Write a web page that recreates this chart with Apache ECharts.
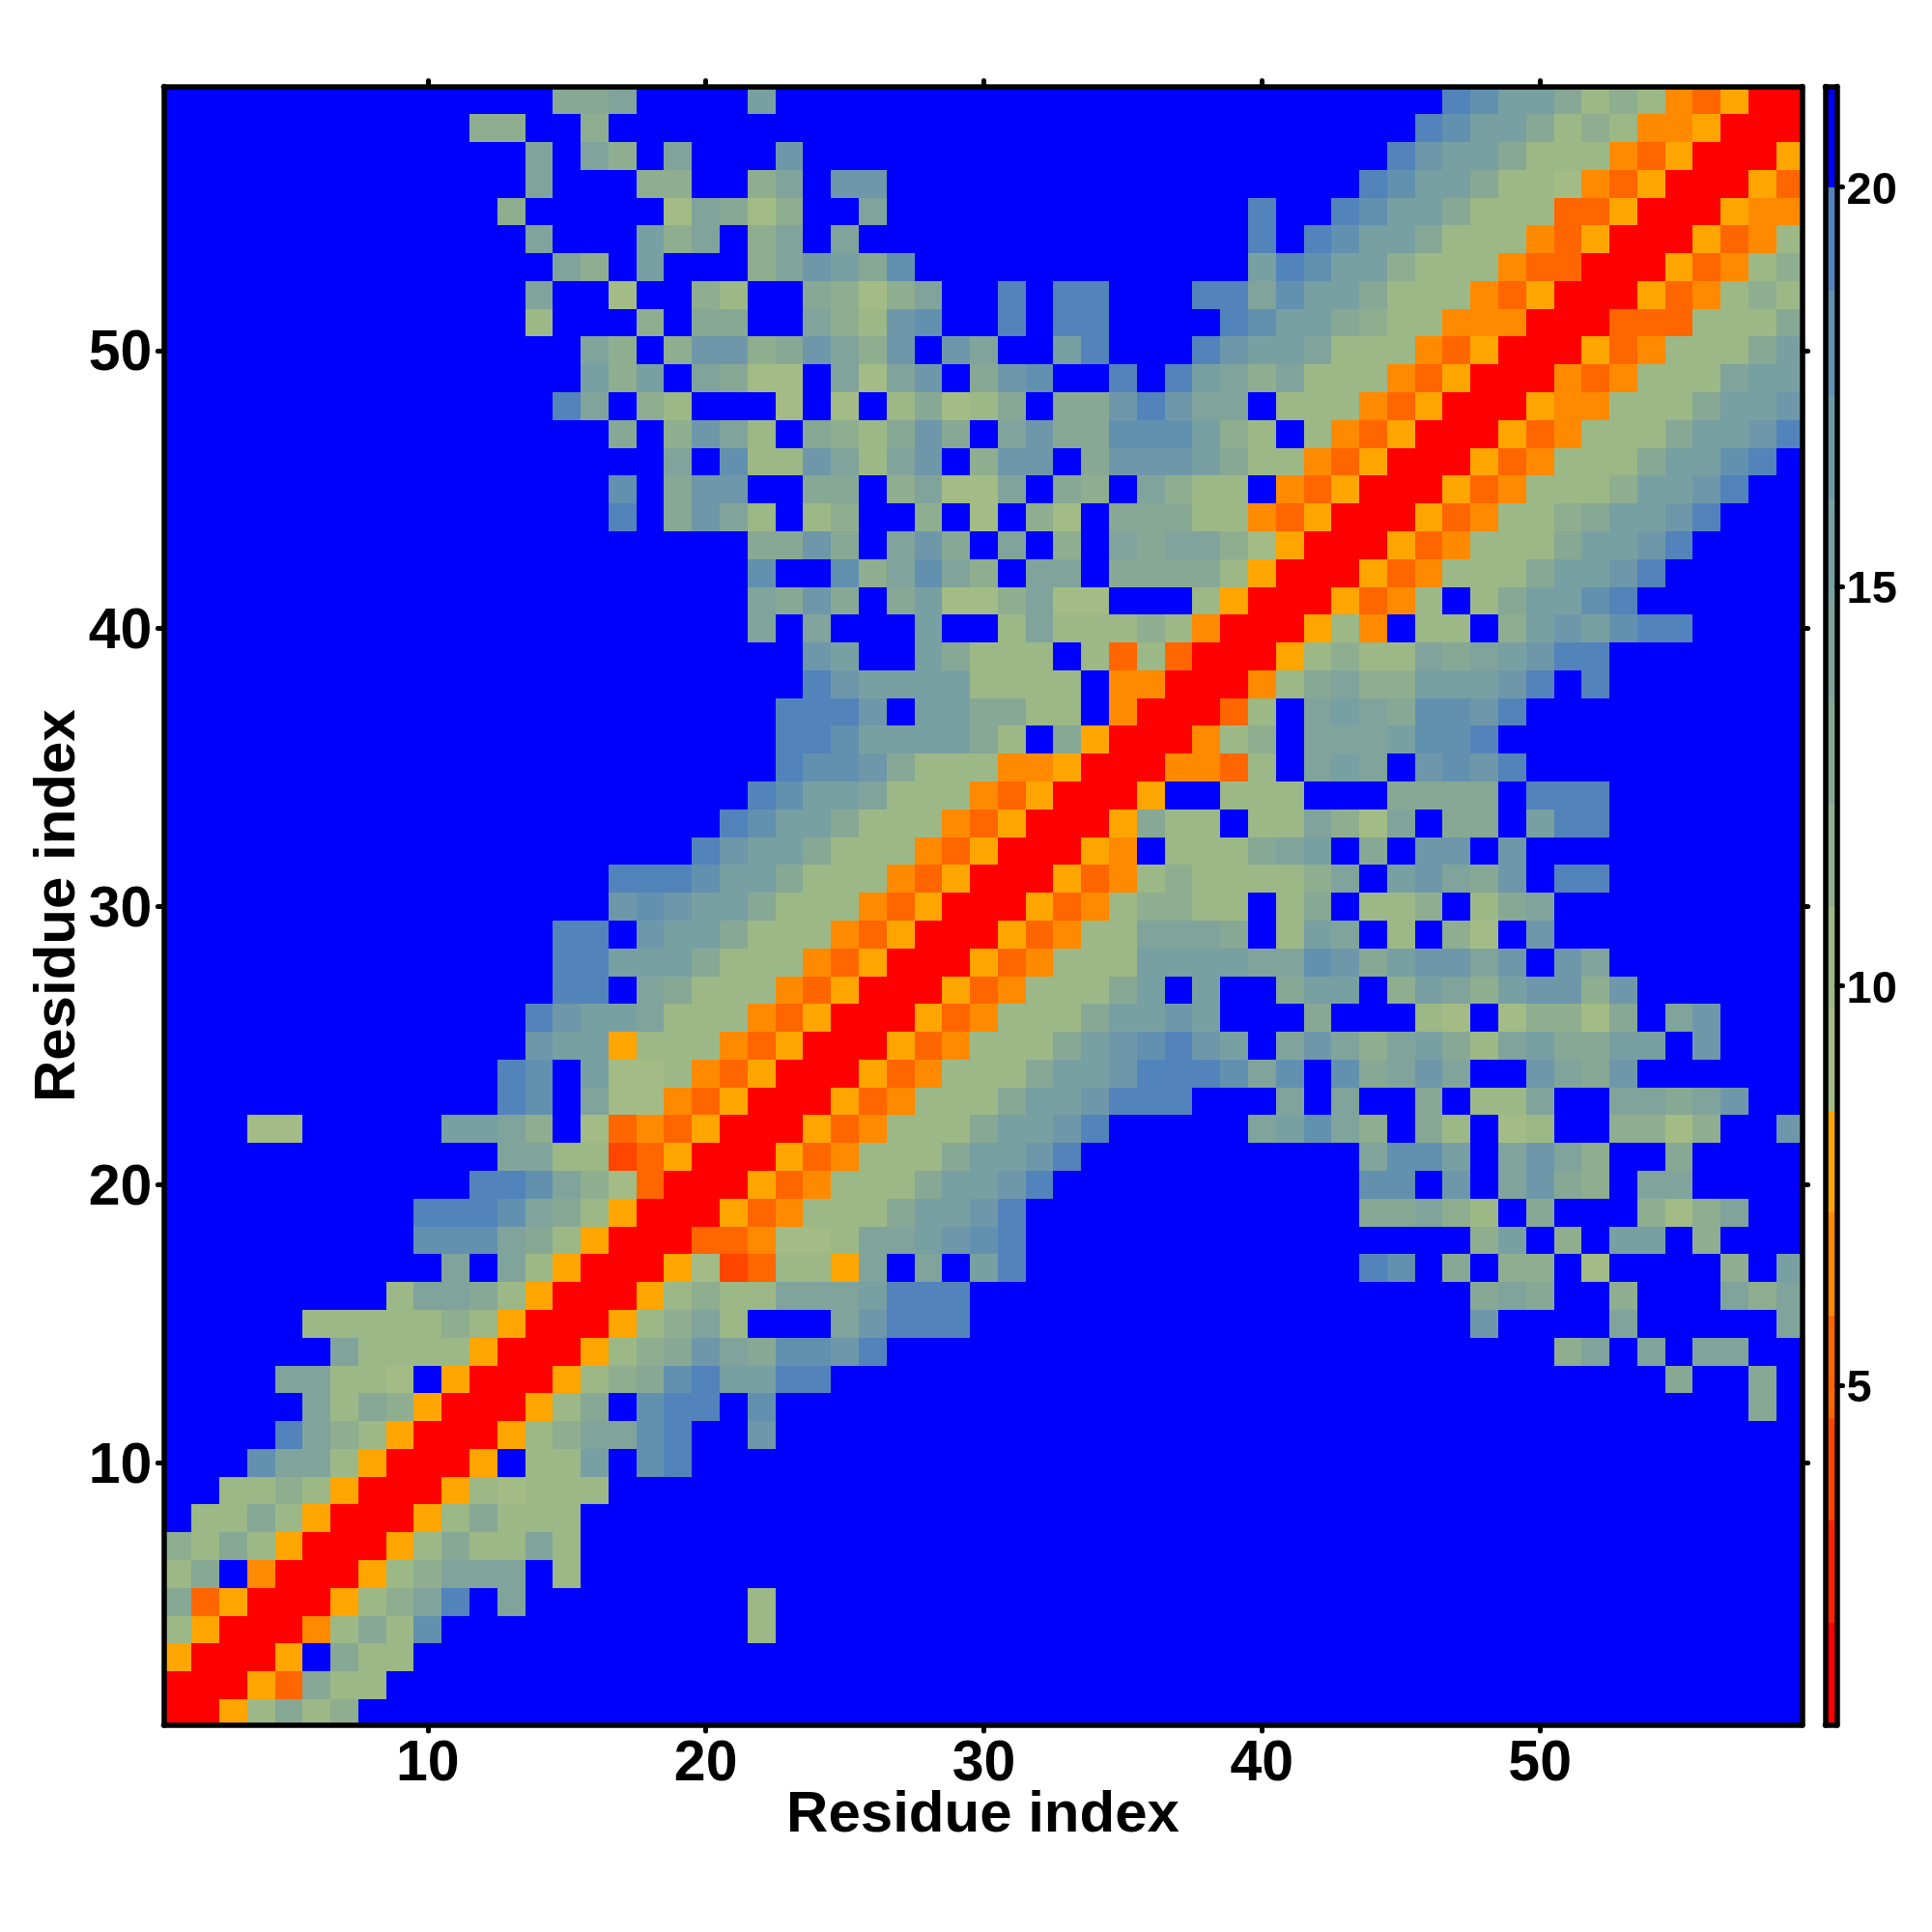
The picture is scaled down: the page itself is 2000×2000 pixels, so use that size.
<!DOCTYPE html>
<html><head><meta charset="utf-8"><title>Residue contact map</title>
<style>html,body{margin:0;padding:0;background:#fff}#c{width:2000px;height:2000px}</style>
<script src="https://cdn.jsdelivr.net/npm/echarts@6/dist/echarts.min.js"></script>
</head><body><div id="c"></div>
<script>
// Each row: segments [firstColumn, value, value, ...]. Any cell not listed reads as the top band (21).
const row59=[[15,13,13,14],[22,15],[47,19,18,15,15,13,10,12,10,7,5,8,1,1]];
const row58=[[12,12,12],[16,12],[46,19,18,15,15,13,10,12,10,7,7,8,1,1,1]];
const row57=[[14,14],[16,14,12],[19,14],[23,17],[45,19,17,15,15,13,10,10,10,7,5,8,1,1,1,8]];
const row56=[[14,14],[18,12,12],[22,12,14],[25,17,17],[44,19,18,15,15,13,10,10,9,7,5,8,1,1,1,8,5]];
const row55=[[13,12],[19,9,14,13,9,12],[26,14],[40,19],[43,19,18,15,15,13,10,10,10,5,5,8,1,1,1,8,7,7]];
const row54=[[14,14],[18,15,12,14],[22,12,14],[25,14],[40,19],[42,19,18,15,15,13,10,10,10,7,5,8,1,1,1,8,5,7,10]];
const row53=[[15,14,12],[18,15],[22,12,14,17,15,13,18],[40,15,19,18,15,15,12,10,10,10,7,5,5,1,1,1,8,5,7,10,12]];
const row52=[[14,14],[17,9],[20,12,10],[24,13,12,9,12,14],[31,19],[33,19,19],[38,19,19,14,18,15,15,13,10,10,10,7,5,8,1,1,1,8,5,7,10,12,10]];
const row51=[[14,10],[18,12],[20,13,13],[24,14,12,10,17,18],[31,19],[33,19,19],[39,19,18,15,15,13,12,10,10,7,7,7,1,1,1,5,5,5,10,10,10,13]];
const row50=[[16,14,12],[19,12,17,17,12,13,17,14,12,17],[29,17,14],[33,15,19],[38,19,17,15,15,14,10,10,10,7,5,8,1,1,1,8,5,7,10,10,10,13,15]];
const row49=[[16,15,12,15],[20,14,13,9,9],[25,14,9,14,17],[30,13,17,18],[35,19],[37,19,15,14,12,14,10,10,10,7,5,8,1,1,1,7,5,7,10,10,10,14,15,15]];
const row48=[[15,19,14],[18,12,10],[23,9],[25,9],[27,10,13,9,10,13],[33,13,13,17,19,17,14,14],[41,10,10,10,7,5,8,1,1,1,8,7,7,10,10,10,13,15,15,17]];
const row47=[[17,13],[19,12,17,14,10],[24,13,12,10,13,17,13],[31,14,17,13,13,18,18,18,15,12,10],[42,10,7,5,8,1,1,1,8,5,7,10,10,10,13,15,15,17,19]];
const row46=[[19,14],[21,18,10,10,17,14,10,14,17],[30,12,17,17],[34,13,17,17,17,15,13,10,10,7,5,8,1,1,1,8,5,7,10,10,10,13,15,15,18,19]];
const row45=[[17,18],[19,13,17,17],[24,13,13],[27,12,14,9,9,14],[33,13,12],[36,14,12,10,10],[41,7,5,8,1,1,1,8,5,7,10,10,10,12,15,15,17,19]];
const row44=[[17,19],[19,13,17,14,10],[24,10,12],[28,12],[30,9],[32,12,9],[35,13,13,13,10,10,7,5,8,1,1,1,8,5,7,10,10,12,13,15,15,17,19]];
const row43=[[22,13,13,17,13],[27,14,17,13],[31,14],[33,12],[35,14,13,14,14,12,9,8,1,1,1,8,5,7,10,10,10,13,15,15,17,19]];
const row42=[[22,18],[25,18,12,14,18,14,12],[32,14,14],[35,13,13,13,13,10,8,1,1,1,8,5,7,10,10,10,13,15,15,17,19]];
const row41=[[22,14,13,17,13],[27,13,15,9,9,12,14,9,9],[38,10,8,1,1,1,8,5,7,10],[48,10,13,15,15,18,19]];
const row40=[[22,14],[24,14],[28,15],[31,10,14,10,10,10,12,10,7,1,1,1,8,10,7],[46,10,10],[49,12,15,17,15,18,19,19]];
const row39=[[24,17,15],[28,15,13,10,10,10],[34,10,5,10,5,1,1,1,8,10,12,10,10,14,13,14,15,17,19,19]];
const row38=[[24,19,17,15,15,15,15,10,10,10,10],[35,7,7,1,1,1,7,10,13,14,12,12,15,15,15,17,19],[52,19]];
const row37=[[23,19,19,19,17],[28,15,15,13,13,10,10],[35,7,1,1,1,5,10],[42,14,15,14,13,18,18,17,19]];
const row36=[[23,19,19,18,15,15,15,15,13,10],[33,13,8,1,1,1,7,10,12],[42,14,14,14,15,18,18,19]];
const row35=[[23,19,18,18,17,13,10,10,10,7,7,8,1,1,1,7,7,5,10],[42,14,15,14],[46,17,18,17,19]];
const row34=[[22,19,18,15,15,14,10,10,10,7,5,8,1,1,1,8],[39,10,10,10],[45,13,13,13,13],[50,19,19,19]];
const row33=[[21,19,18,15,15,13,10,10,10,7,5,8,1,1,1,8,13,10,10],[40,10,10,14,12,9,14],[47,13,13],[50,15,19,19]];
const row32=[[20,19,17,15,15,13,10,10,10,7,5,8,1,1,1,8,7],[37,10,10,10,13,14,15],[44,13],[46,17,17],[49,17]];
const row31=[[17,19,19,19,18,15,15,13,10,10,10,7,5,8,1,1,1,8,5,7,10,12,10,10,10,10,12],[43,14],[45,15,17,14,13,17],[51,19,19]];
const row30=[[17,17,18,17,15,15,13,10,10,10,7,5,8,1,1,1,8,5,7,10,12,12,10,10],[41,10,13],[44,10,10,12],[48,10,13,14]];
const row29=[[15,19,19],[18,17,15,15,13,10,10,10,7,5,8,1,1,1,8,5,7,10,10,14,14,14,13],[41,10,15,14],[45,10],[47,12,9],[50,17]];
const row28=[[15,19,19,15,15,15,13,10,10,10,7,5,8,1,1,1,8,5,7,10,10,10,15,15,15,15,14,14,18,17,13,15,17,17,14,17],[51,17,14]];
const row27=[[15,19,19],[18,14,13,10,10,10,7,5,8,1,1,1,8,5,7,10,10,10,13,15],[38,15],[41,13,15,15],[45,12,15,14,12,15,17,17,12,17]];
const row26=[[14,19,17,15,15,14,10,10,10,7,5,8,1,1,1,8,5,7,10,10,10,13,15,15,17,15],[42,13],[46,10,9],[49,9,12,12,9,13],[55,14,17]];
const row25=[[14,17,15,15,8,10,10,10,7,5,8,1,1,1,8,5,7,10,10,10,13,15,17,18,19,17,15],[41,14,17,14,12,14,15,13,10,14,15,13,13,15,15],[56,17]];
const row24=[[13,19,18],[16,15,9,9,10,7,5,8,1,1,1,8,5,7,10,10,10,13,15,15,17,19,19,19,18,14,18],[43,18,13,14,17,14],[50,17,14,13,17]];
const row23=[[13,19,18],[16,14,9,9,7,5,8,1,1,1,8,5,7,10,10,10,13,15,15,17,19,19,19],[41,14],[43,14],[46,13],[48,10,10,14],[53,14,14,13,14,17]];
const row22=[[4,9,9],[11,15,15,14,12],[16,9,5,7,5,8,1,1,1,8,5,7,10,10,10,13,15,15,17,19],[40,14,15,18,14,12],[46,13,10],[49,9,10],[53,12,12,9,12],[59,17]];
const row21=[[13,14,14,10,10,4,5,8,1,1,1,8,5,7,10,10,10,13,15,15,17,19],[44,14,18,18,15],[49,14,17,14,12],[55,13]];
const row20=[[12,19,19,18,14,12,9,5,1,1,1,8,5,7,10,10,10,13,15,15,17,19],[44,18,18],[47,17],[49,14,17,13,12],[54,14,14]];
const row19=[[10,19,19,19,18,14,13,10,8,1,1,1,8,5,7,10,10,10,13,15,15,17,19],[44,13,13,14,12,10],[50,13],[54,12,9,12,14]];
const row18=[[10,18,18,18,14,13,10,8,1,1,1,5,5,7,9,9,10,14,14,15,17,18,19],[48,12,15],[51,12],[53,15,15],[56,12]];
const row17=[[11,14],[13,14,10,8,1,1,1,8,9,4,5,10,10,8,14],[28,14],[30,15,19],[44,19,18],[47,13],[49,12,12],[52,9],[57,12],[59,15]];
const row16=[[9,10,14,14,13,10,8,1,1,1,8,10,12,10,10,14,14,14,15,19,19,19],[48,13,14,13],[53,12],[57,14,12,14]];
const row15=[[6,10,10,10,10,10,12,10,8,1,1,1,8,10,12,14,10],[25,14,17,19,19,19],[48,17],[53,14],[59,14]];
const row14=[[7,14,10,10,10,10,8,1,1,1,8,10,12,13,17,14,13,18,18,17,19],[51,12,14],[54,14],[56,14,14]];
const row13=[[5,14,14,10,10,9],[11,8,1,1,1,8,10,12,13,18,19,15,15,19,19],[55,13],[58,13]];
const row12=[[6,14,10,13,12,8,1,1,1,8,10,13],[18,18,19,19],[22,18],[58,13]];
const row11=[[5,19,14,12,10,8,1,1,1,8,10,12,14,14,18,19],[22,17]];
const row10=[[4,18,14,14,10,8,1,1,1,8],[14,10,10,15],[18,18,19]];
const row09=[[3,10,10,12,10,8,1,1,1,8,10,9,10,10,10]];
const row08=[[2,10,10,13,10,8,1,1,1,8,10,13,10,10,10]];
const row07=[[1,12,10,13,10,8,1,1,1,8,10,13,10,10,14,10]];
const row06=[[1,10,13],[4,7,1,1,1,8,10,12,14,14,14],[15,10]];
const row05=[[1,13,5,8,1,1,1,8,10,12,14,19],[13,14],[22,10]];
const row04=[[1,10,8,1,1,1,7,10,13,10,18],[22,10]];
const row03=[[1,8,1,1,1,8],[7,13,10,10]];
const row02=[[1,1,1,1,8,5,13,10,10]];
const row01=[[1,1,1,8,10,13,10,12]];
const rows=[row01,row02,row03,row04,row05,row06,row07,row08,row09,row10,row11,row12,row13,row14,row15,row16,row17,row18,row19,row20,row21,row22,row23,row24,row25,row26,row27,row28,row29,row30,row31,row32,row33,row34,row35,row36,row37,row38,row39,row40,row41,row42,row43,row44,row45,row46,row47,row48,row49,row50,row51,row52,row53,row54,row55,row56,row57,row58,row59];
const nResidues=59;
const bandEdges=[0.75,2.03,3.31,4.59,5.875,7.16,8.44,9.72,11,12.28,13.56,14.84,16.1,17.4,18.7,20,21.25];
const bandColors=['#FF0000','#FF2200','#FF4500','#FF6600','#FF8A00','#FFA500','#A3BC85','#9CB886','#8FAE8F','#87A894','#80A49B','#78A0A2','#6E98A9','#6291B0','#5383BB','#0000FF'];
const axisTicks=[10,20,30,40,50];
const barTicks=[5,10,15,20];
const axisTitle='Residue index';

function colorOf(v){for(let i=0;i<bandColors.length;i++){if(v<bandEdges[i+1])return bandColors[i];}return bandColors[bandColors.length-1];}
const cells=[];
for(let y=1;y<=nResidues;y++){
  const line=new Array(nResidues).fill(21);
  rows[y-1].forEach(seg=>{for(let k=1;k<seg.length;k++)line[seg[0]-1+k-1]=seg[k];});
  for(let x=1;x<=nResidues;x++)cells.push([x,y,line[x-1]]);
}
const barData=bandColors.map((c,i)=>[bandEdges[i],bandEdges[i+1],i]);

const FONT='"Liberation Sans"';
const lineS={color:'#000',width:5.5,cap:'round'};
const tickS={show:true,inside:false,length:6,lineStyle:{color:'#000',width:5,cap:'round'}};
const mainX={min:0.5,max:59.43}, mainY={min:0.56,max:59.5}, barY={min:0.744,max:21.26};
const base={type:'value',splitLine:{show:false},z:10,axisLine:{show:true,onZero:false,lineStyle:lineS}};
const titleStyle={color:'#000',fontFamily:FONT,fontWeight:'bold',fontSize:60};
const lab=(vals,size,margin)=>({show:true,customValues:vals,color:'#000',fontFamily:FONT,fontWeight:'bold',fontSize:size,margin:margin,formatter:v=>String(v)});
// the same label, nudged a few pixels down off the tick as in the reference
const labShifted=(vals,size,margin,extra)=>Object.assign(lab(vals,size,margin),{formatter:v=>'{a|'+v+'}',
  rich:{a:{color:'#000',fontFamily:FONT,fontWeight:'bold',fontSize:size,padding:[8,0,0,0]}}},extra||{});

const option={
  animation:false,backgroundColor:'#fff',
  grid:[
    {left:169.4,top:89.4,width:1696.2,height:1696.6,containLabel:false,show:false},
    {left:1889.5,top:89.4,width:12,height:1696.6,containLabel:false,show:false}
  ],
  xAxis:[
    Object.assign({},base,mainX,{gridIndex:0,position:'bottom',axisTick:Object.assign({},tickS,{customValues:axisTicks}),axisLabel:lab(axisTicks,59,11),
      name:axisTitle,nameLocation:'middle',nameGap:63,nameMoveOverlap:false,nameTextStyle:titleStyle}),
    Object.assign({},base,mainX,{gridIndex:0,position:'top',axisTick:Object.assign({},tickS,{customValues:axisTicks}),axisLabel:{show:false}}),
    Object.assign({},base,{gridIndex:1,position:'bottom',min:0,max:1,axisTick:{show:false},axisLabel:{show:false}}),
    Object.assign({},base,{gridIndex:1,position:'top',min:0,max:1,axisTick:{show:false},axisLabel:{show:false}})
  ],
  yAxis:[
    Object.assign({},base,mainY,{gridIndex:0,position:'left',axisTick:Object.assign({},tickS,{customValues:axisTicks}),axisLabel:labShifted(axisTicks,59,12),
      name:axisTitle,nameLocation:'middle',nameGap:79,nameMoveOverlap:false,nameRotate:90,nameTextStyle:titleStyle}),
    Object.assign({},base,mainY,{gridIndex:0,position:'right',axisTick:Object.assign({},tickS,{customValues:axisTicks}),axisLabel:{show:false}}),
    Object.assign({},base,barY,{gridIndex:1,position:'left',axisTick:{show:false},axisLabel:{show:false}}),
    Object.assign({},base,barY,{gridIndex:1,position:'right',axisTick:Object.assign({},tickS,{customValues:barTicks}),axisLabel:labShifted(barTicks,47,10,{align:'left'})})
  ],
  series:[
    {type:'custom',coordinateSystem:'cartesian2d',xAxisIndex:0,yAxisIndex:0,clip:true,silent:true,z:2,progressive:0,
     encode:{x:0,y:1},data:cells,
     renderItem:function(p,api){
       const x=api.value(0),y=api.value(1);
       const a=api.coord([x-0.5,y+0.5]),b=api.coord([x+0.5,y-0.5]);
       const l=Math.round(a[0]),t=Math.round(a[1]),r=Math.round(b[0]),bt=Math.round(b[1]);
       const rect=echarts.graphic.clipRectByRect({x:l,y:t,width:r-l,height:bt-t},{x:p.coordSys.x,y:p.coordSys.y,width:p.coordSys.width,height:p.coordSys.height});
       return rect?{type:'rect',shape:rect,style:{fill:colorOf(api.value(2))}}:null;
     }},
    {type:'custom',coordinateSystem:'cartesian2d',xAxisIndex:2,yAxisIndex:2,silent:true,z:2,progressive:0,
     encode:{y:[0,1]},data:barData,
     renderItem:function(p,api){
       const a=api.coord([0,api.value(1)]),b=api.coord([1,api.value(0)]);
       return {type:'rect',shape:{x:a[0],y:Math.round(a[1]),width:b[0]-a[0],height:Math.round(b[1])-Math.round(a[1])},style:{fill:bandColors[api.value(2)]}};
     }}
  ]
};
const chart=echarts.init(document.getElementById('c'),null,{renderer:'canvas',width:2000,height:2000});
chart.setOption(option);
</script></body></html>
